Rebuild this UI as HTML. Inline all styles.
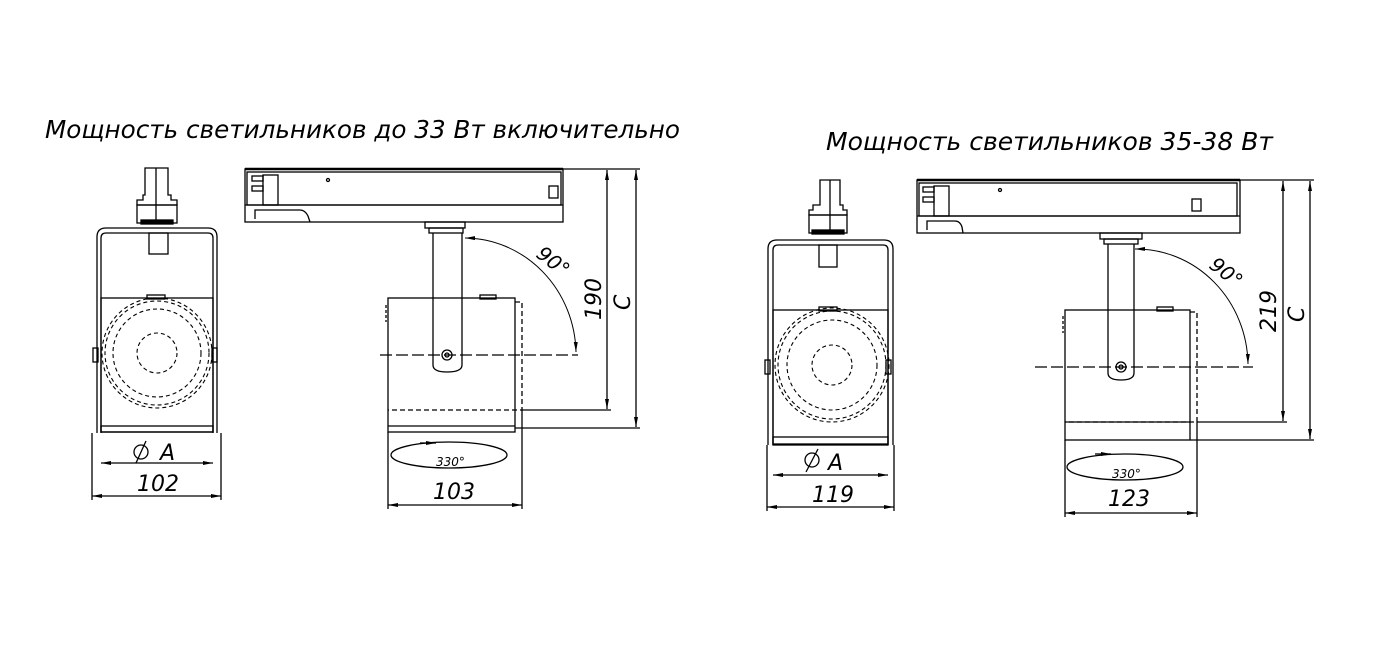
<!DOCTYPE html>
<html><head><meta charset="utf-8"><style>
html,body{margin:0;padding:0;background:#fff;}
svg{display:block;}
text{font-family:"DejaVu Sans","Liberation Sans",sans-serif;font-style:italic;fill:#000;}
</style></head><body>
<svg width="1400" height="652" viewBox="0 0 1400 652" xmlns="http://www.w3.org/2000/svg">
<defs>
<marker id="ar" viewBox="0 0 10 6" refX="10" refY="3" markerWidth="10" markerHeight="6" orient="auto-start-reverse" markerUnits="userSpaceOnUse"><path d="M0,1 L10,3 L0,5 z" fill="#000"/></marker>
</defs>
<g fill="none" stroke="#000" stroke-width="1.3">
<!-- Titles -->
<text x="45" y="138" font-size="25" textLength="635" lengthAdjust="spacingAndGlyphs" stroke="none">Мощность светильников до 33 Вт включительно</text>
<text x="826" y="150" font-size="25" textLength="447" lengthAdjust="spacingAndGlyphs" stroke="none">Мощность светильников 35-38 Вт</text>

<!-- ===== LEFT FRONT VIEW ===== -->
<path d="M145,168 H168 V195 H171 V200 H177 V205 H137 V200 H143 V195 H145 Z"/>
<line x1="156" y1="168" x2="156" y2="223"/>
<rect x="137" y="205" width="40" height="18"/>
<rect x="141" y="220" width="32" height="4" fill="#000"/>
<path d="M97,433 V237 Q97,228 106,228 H208 Q217,228 217,237 V433"/>
<path d="M101,433 V238 Q101,233 106,233 H208 Q213,233 213,238 V433"/>
<rect x="149" y="233" width="19" height="21"/>
<rect x="101" y="298" width="112" height="134"/>
<rect x="147" y="295" width="18" height="4"/>
<rect x="101" y="426" width="112" height="6"/>
<rect x="93" y="348" width="5" height="14"/><rect x="212" y="348" width="5" height="14"/>
<g stroke-dasharray="4,3" stroke-width="1.1">
<circle cx="157" cy="353" r="55"/><circle cx="157" cy="353" r="52"/>
<circle cx="157" cy="353" r="44"/><circle cx="157" cy="353" r="20"/>
</g>
<line x1="92" y1="433" x2="92" y2="500"/><line x1="221" y1="433" x2="221" y2="500"/>
<line x1="101" y1="463" x2="213" y2="463" marker-start="url(#ar)" marker-end="url(#ar)"/>
<line x1="92" y1="496" x2="221" y2="496" marker-start="url(#ar)" marker-end="url(#ar)"/>
<circle cx="141" cy="452" r="7"/><line x1="136" y1="463" x2="146" y2="441"/>
<text x="160" y="460" font-size="22" stroke="none">A</text>
<text x="137" y="491" font-size="22" stroke="none">102</text>

<!-- ===== LEFT SIDE VIEW ===== -->
<rect x="245" y="169" width="318" height="53"/>
<line x1="245" y1="169" x2="563" y2="169" stroke-width="2.5"/>
<rect x="247" y="172" width="314" height="33"/>
<line x1="245" y1="205" x2="563" y2="205"/>
<rect x="263" y="175" width="15" height="30"/><rect x="252" y="176" width="11" height="5"/><rect x="252" y="186" width="11" height="5"/>
<rect x="549" y="186" width="9" height="12"/>
<path d="M255,219 V210 H300 Q305,210 308,216 L310,222"/>
<circle cx="328" cy="180" r="1.5"/>
<rect x="425" y="222" width="40" height="6"/><rect x="429" y="228" width="34" height="5"/>
<path d="M433,233 V365 Q433,372 447,372 Q462,372 462,365 V233"/>
<circle cx="447" cy="355" r="5"/><circle cx="447" cy="355" r="2"/>
<rect x="388" y="298" width="127" height="134"/>
<line x1="388" y1="426" x2="515" y2="426"/>
<rect x="480" y="295" width="16" height="4"/>
<path d="M515,302 H522 V410 H388" stroke-dasharray="5,3"/>
<path d="M386,305 V322" stroke-dasharray="3,2"/>
<path d="M380,355 H578" stroke-dasharray="12,4"/>
<path d="M465,238 A112,117 0 0 1 576,352" marker-start="url(#ar)" marker-end="url(#ar)" stroke-width="1"/>
<text x="0" y="0" font-size="20" stroke="none" transform="translate(535,256) rotate(38)">90°</text>
<line x1="563" y1="169" x2="640" y2="169"/>
<line x1="522" y1="410" x2="611" y2="410"/>
<line x1="515" y1="428" x2="640" y2="428"/>
<line x1="607" y1="170" x2="607" y2="409" marker-start="url(#ar)" marker-end="url(#ar)"/>
<line x1="636" y1="170" x2="636" y2="427" marker-start="url(#ar)" marker-end="url(#ar)"/>
<text x="0" y="0" font-size="22" stroke="none" transform="translate(601,320) rotate(-90)">190</text>
<text x="0" y="0" font-size="22" stroke="none" transform="translate(630,310) rotate(-90)">C</text>
<ellipse cx="449" cy="455" rx="58" ry="13"/>
<line x1="420" y1="443" x2="436" y2="443" marker-end="url(#ar)"/>
<text x="436" y="466" font-size="12" stroke="none">330°</text>
<line x1="388" y1="432" x2="388" y2="509"/><line x1="522" y1="410" x2="522" y2="509"/>
<line x1="388" y1="505" x2="522" y2="505" marker-start="url(#ar)" marker-end="url(#ar)"/>
<text x="433" y="499" font-size="22" stroke="none">103</text>

<!-- ===== RIGHT FRONT VIEW ===== -->
<path d="M820,180 H840 V205 H843 V210 H847 V215 H809 V210 H813 V205 H820 Z"/>
<line x1="830" y1="180" x2="830" y2="233"/>
<rect x="809" y="215" width="38" height="18"/>
<rect x="812" y="230" width="32" height="4" fill="#000"/>
<path d="M768,445 V249 Q768,240 777,240 H884 Q893,240 893,249 V445"/>
<path d="M773,445 V250 Q773,245 778,245 H883 Q888,245 888,250 V445"/>
<rect x="819" y="245" width="18" height="22"/>
<rect x="773" y="310" width="115" height="135"/>
<rect x="819" y="307" width="18" height="4"/>
<rect x="773" y="437" width="115" height="7"/>
<rect x="765" y="360" width="5" height="14"/><rect x="886" y="360" width="5" height="14"/>
<g stroke-dasharray="4,3" stroke-width="1.1">
<circle cx="832" cy="365" r="57"/><circle cx="832" cy="365" r="54"/>
<circle cx="832" cy="365" r="45"/><circle cx="832" cy="365" r="20"/>
</g>
<line x1="767" y1="445" x2="767" y2="511"/><line x1="894" y1="445" x2="894" y2="511"/>
<line x1="773" y1="475" x2="888" y2="475" marker-start="url(#ar)" marker-end="url(#ar)"/>
<line x1="767" y1="507" x2="894" y2="507" marker-start="url(#ar)" marker-end="url(#ar)"/>
<circle cx="812" cy="460" r="7"/><line x1="806" y1="472" x2="818" y2="449"/>
<text x="828" y="470" font-size="22" stroke="none">A</text>
<text x="812" y="502" font-size="22" stroke="none">119</text>

<!-- ===== RIGHT SIDE VIEW ===== -->
<rect x="917" y="180" width="323" height="53"/>
<line x1="917" y1="180" x2="1240" y2="180" stroke-width="2.5"/>
<rect x="919" y="183" width="318" height="33"/>
<line x1="917" y1="216" x2="1240" y2="216"/>
<rect x="934" y="186" width="15" height="30"/><rect x="923" y="187" width="11" height="5"/><rect x="923" y="197" width="11" height="5"/>
<rect x="1192" y="199" width="9" height="12"/>
<path d="M927,230 V221 H955 Q960,221 962,227 L963,233"/>
<circle cx="1000" cy="190" r="1.5"/>
<rect x="1100" y="233" width="42" height="6"/><rect x="1104" y="239" width="34" height="5"/>
<path d="M1108,244 V373 Q1108,380 1121,380 Q1134,380 1134,373 V244"/>
<circle cx="1121" cy="367" r="5"/><circle cx="1121" cy="367" r="2"/>
<rect x="1065" y="310" width="125" height="130"/>
<line x1="1065" y1="422" x2="1190" y2="422"/>
<rect x="1157" y="307" width="16" height="4"/>
<path d="M1190,312 H1197 V422 H1065" stroke-dasharray="5,3"/>
<path d="M1063,316 V333" stroke-dasharray="3,2"/>
<path d="M1035,367 H1253" stroke-dasharray="12,4"/>
<path d="M1135,249 A112,117 0 0 1 1248,364" marker-start="url(#ar)" marker-end="url(#ar)" stroke-width="1"/>
<text x="0" y="0" font-size="20" stroke="none" transform="translate(1208,267) rotate(38)">90°</text>
<line x1="1240" y1="180" x2="1314" y2="180"/>
<line x1="1197" y1="422" x2="1287" y2="422"/>
<line x1="1190" y1="440" x2="1314" y2="440"/>
<line x1="1283" y1="181" x2="1283" y2="421" marker-start="url(#ar)" marker-end="url(#ar)"/>
<line x1="1310" y1="181" x2="1310" y2="439" marker-start="url(#ar)" marker-end="url(#ar)"/>
<text x="0" y="0" font-size="22" stroke="none" transform="translate(1276,332) rotate(-90)">219</text>
<text x="0" y="0" font-size="22" stroke="none" transform="translate(1304,322) rotate(-90)">C</text>
<ellipse cx="1125" cy="467" rx="58" ry="13"/>
<line x1="1095" y1="454" x2="1111" y2="454" marker-end="url(#ar)"/>
<text x="1112" y="478" font-size="12" stroke="none">330°</text>
<line x1="1065" y1="440" x2="1065" y2="517"/><line x1="1197" y1="422" x2="1197" y2="517"/>
<line x1="1065" y1="513" x2="1197" y2="513" marker-start="url(#ar)" marker-end="url(#ar)"/>
<text x="1108" y="506" font-size="22" stroke="none">123</text>
</g>
</svg>
</body></html>
